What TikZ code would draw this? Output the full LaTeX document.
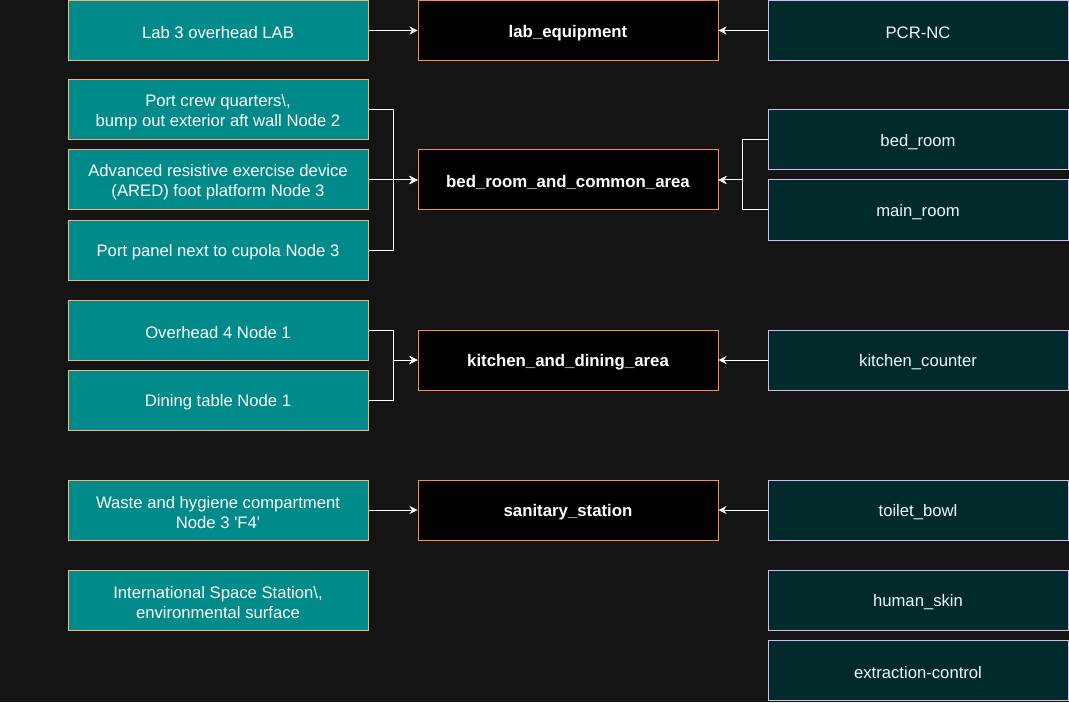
\documentclass[tikz,border=0pt]{standalone}
\usepackage{fontspec}
\setmainfont{Liberation Sans}
\usetikzlibrary{arrows.meta}
\definecolor{bg}{HTML}{141414}
\definecolor{tealfill}{HTML}{008B8A}
\definecolor{tealline}{HTML}{FFB27A}
\definecolor{midline}{HTML}{FF8A4C}
\definecolor{darkfill}{HTML}{002B2A}
\definecolor{darkline}{HTML}{DAB8F0}
\tikzset{
  box/.style={minimum width=225pt, minimum height=45pt, inner sep=0pt, line width=0.75pt},
  lbl/.style={yshift=-1.8pt, inner sep=0pt, align=center, text=white,
    font=\fontsize{12.5}{15}\selectfont},
  src/.style={box, fill=tealfill, draw=tealline},
  mid/.style={box, fill=black, draw=midline},
  tgt/.style={box, fill=darkfill, draw=darkline},
  srct/.style={label={[lbl]center:#1}},
  midt/.style={label={[lbl, font=\fontsize{12.6}{15}\selectfont\bfseries]center:#1}},
  tgtt/.style={label={[lbl, text=white!92!cyan]center:#1}},
  arr/.style={draw=white, line width=0.75pt, -{Stealth[length=6pt,width=6pt]}}
}
\begin{document}
\begin{tikzpicture}[x=0.75pt,y=-0.75pt]
\fill[bg] (0,0) rectangle (1069,702);
\useasboundingbox (0,0) rectangle (1069,702);
% left
\node[src, srct={Lab 3 overhead LAB}] (L1) at (218,30.5) {};
\node[src, srct={Port crew quarters\textbackslash,\\bump out exterior aft wall Node 2}] (L2) at (218,110) {};
\node[src, srct={Advanced resistive exercise device\\(ARED) foot platform Node 3}] (L3) at (218,180) {};
\node[src, srct={Port panel next to cupola Node 3}] (L4) at (218,250) {};
\node[src, srct={Overhead 4 Node 1}] (L5) at (218,330) {};
\node[src, srct={Dining table Node 1}] (L6) at (218,400) {};
\node[src, srct={Waste and hygiene compartment\\Node 3 \textquotesingle F4\textquotesingle}] (L7) at (218,510) {};
\node[src, srct={International Space Station\textbackslash,\\environmental surface}] (L8) at (218,600) {};
% middle
\node[mid, midt={lab\_equipment}] (M1) at (568,30.5) {};
\node[mid, midt={bed\_room\_and\_common\_area}] (M2) at (568,180) {};
\node[mid, midt={kitchen\_and\_dining\_area}] (M3) at (568,360) {};
\node[mid, midt={sanitary\_station}] (M4) at (568,510) {};
% right
\node[tgt, tgtt={PCR-NC}] (R1) at (918,30.5) {};
\node[tgt, tgtt={bed\_room}] (R2) at (918,140) {};
\node[tgt, tgtt={main\_room}] (R3) at (918,210) {};
\node[tgt, tgtt={kitchen\_counter}] (R4) at (918,360) {};
\node[tgt, tgtt={toilet\_bowl}] (R5) at (918,510) {};
\node[tgt, tgtt={human\_skin}] (R6) at (918,600) {};
\node[tgt, tgtt={extraction-control}] (R7) at (918,670) {};
% edges left
\draw[arr] (L1.east) -- (M1.west);
\draw[arr] (L2.east) -- ++(25,0) |- (M2.west);
\draw[arr] (L3.east) -- (M2.west);
\draw[arr] (L4.east) -- ++(25,0) |- (M2.west);
\draw[arr] (L5.east) -- ++(25,0) |- (M3.west);
\draw[arr] (L6.east) -- ++(25,0) |- (M3.west);
\draw[arr] (L7.east) -- (M4.west);
% edges right
\draw[arr] (R1.west) -- (M1.east);
\draw[arr] (R2.west) -- ++(-25,0) |- (M2.east);
\draw[arr] (R3.west) -- ++(-25,0) |- (M2.east);
\draw[arr] (R4.west) -- (M3.east);
\draw[arr] (R5.west) -- (M4.east);
\end{tikzpicture}
\end{document}
